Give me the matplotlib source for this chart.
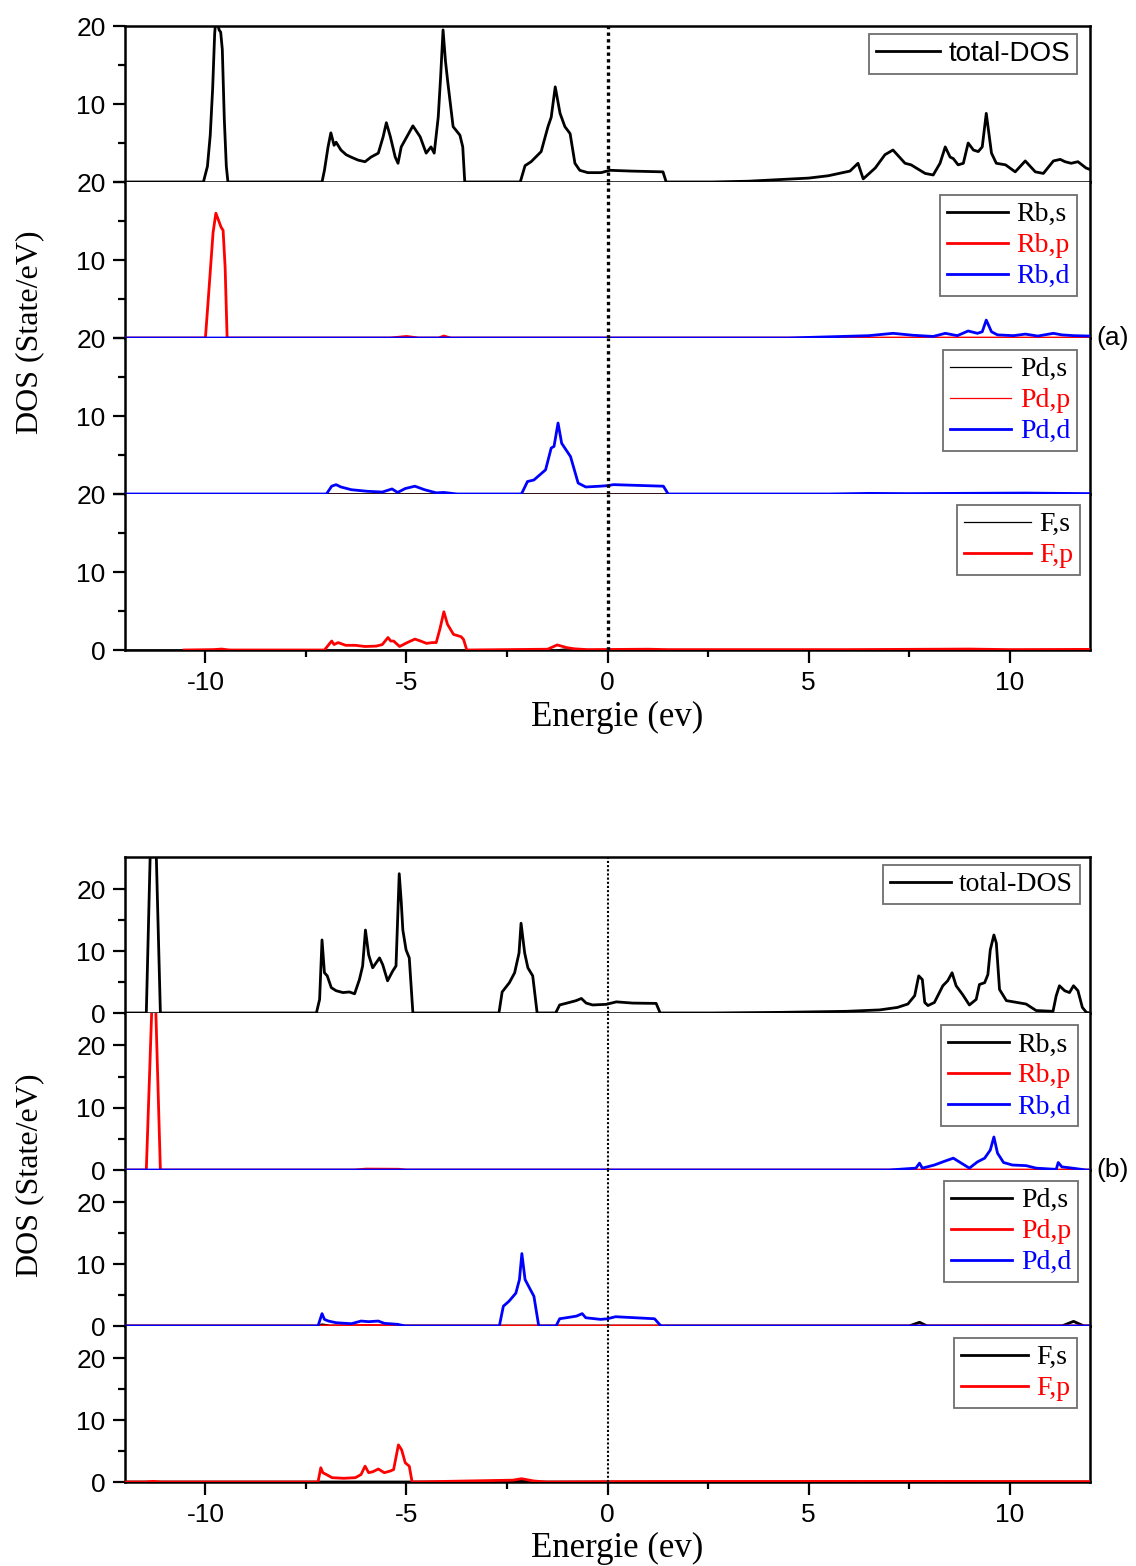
import matplotlib
matplotlib.use("Agg")
import numpy as np
import matplotlib.pyplot as plt
from matplotlib.ticker import FixedLocator, FixedFormatter

SANS = "Liberation Sans"
SERIF = "Liberation Serif"

# ---------------- (a) ----------------
A_TOTAL = np.array([
    (-12, 0), (-10.05, 0), (-9.95, 2), (-9.88, 6), (-9.82, 12), (-9.77, 19), (-9.74, 21),
    (-9.70, 20.5), (-9.66, 19.5), (-9.62, 19.2), (-9.58, 17), (-9.53, 8), (-9.48, 2), (-9.44, 0),
    (-7.1, 0), (-7.04, 1.5), (-6.95, 4.5), (-6.88, 6.3), (-6.8, 4.7), (-6.75, 5.1), (-6.63, 4.1),
    (-6.5, 3.5), (-6.38, 3.2), (-6.2, 2.8), (-6.03, 2.6), (-5.88, 3.2), (-5.7, 3.7), (-5.58, 5.8),
    (-5.5, 7.6), (-5.4, 5.8), (-5.28, 3.2), (-5.21, 2.4), (-5.13, 4.5), (-4.84, 7.2), (-4.66, 5.8),
    (-4.51, 3.7), (-4.39, 4.5), (-4.31, 3.7), (-4.21, 8.3), (-4.15, 13.5), (-4.09, 19.5),
    (-4.03, 15.5), (-3.97, 12.7), (-3.84, 7.1), (-3.67, 6.0), (-3.6, 4.5), (-3.55, 0),
    (-2.17, 0), (-2.05, 2.1), (-1.9, 2.6), (-1.65, 3.9), (-1.48, 7.1), (-1.40, 8.3), (-1.30, 12.2),
    (-1.18, 8.8), (-1.06, 7.1), (-0.93, 6.2), (-0.81, 2.4), (-0.69, 1.5), (-0.49, 1.2), (-0.16, 1.2),
    (0.06, 1.5), (0.59, 1.4), (1.38, 1.3), (1.46, 0),
    (2.6, 0), (3.5, 0.1), (4.24, 0.3), (5.0, 0.5), (5.49, 0.8), (6.03, 1.4), (6.23, 2.4), (6.36, 0.4),
    (6.66, 1.8), (6.9, 3.5), (7.1, 4.1), (7.4, 2.4), (7.55, 2.2), (7.9, 1.1), (8.1, 0.9), (8.27, 2.4),
    (8.4, 4.5), (8.52, 3.2), (8.6, 3.0), (8.72, 2.2), (8.85, 2.4), (8.97, 5.0), (9.1, 4.1), (9.22, 3.9),
    (9.32, 4.5), (9.42, 8.8), (9.55, 3.7), (9.67, 2.4), (9.9, 2.2), (10.14, 1.3), (10.39, 2.7),
    (10.64, 1.3), (10.84, 1.1), (11.09, 2.7), (11.26, 2.9), (11.38, 2.6), (11.53, 2.4), (11.7, 2.6),
    (11.9, 1.8), (12, 1.6)])

A_RB_S = np.array([(-12, 0), (12, 0)])
A_RB_P = np.array([
    (-12, 0), (-10.0, 0), (-9.93, 4.9), (-9.81, 13.5), (-9.74, 16.0), (-9.66, 14.9), (-9.61, 14.2),
    (-9.56, 13.8), (-9.51, 9.1), (-9.46, 0), (-5.4, 0), (-5.0, 0.2), (-4.7, 0), (-4.2, 0),
    (-4.07, 0.25), (-3.9, 0), (12, 0)])
A_RB_D = np.array([
    (-12, 0), (4.5, 0), (5.5, 0.15), (6.5, 0.3), (7.1, 0.6), (7.6, 0.35), (8.1, 0.2), (8.4, 0.6),
    (8.7, 0.3), (8.97, 0.9), (9.2, 0.6), (9.32, 0.8), (9.42, 2.3), (9.55, 0.8), (9.7, 0.4),
    (10.1, 0.3), (10.39, 0.5), (10.7, 0.25), (11.09, 0.6), (11.3, 0.4), (11.6, 0.3), (12, 0.25)])

A_PD_S = np.array([(-12, 0), (10.2, 0), (10.4, 0.15), (10.6, 0), (12, 0)])
A_PD_P = np.array([(-12, 0), (12, 0)])
A_PD_D = np.array([
    (-12, 0), (-6.99, 0), (-6.86, 1.0), (-6.75, 1.2), (-6.63, 0.9), (-6.37, 0.55), (-5.98, 0.35),
    (-5.6, 0.25), (-5.36, 0.65), (-5.22, 0.2), (-5.03, 0.7), (-4.79, 1.0), (-4.55, 0.55),
    (-4.26, 0.15), (-4.07, 0.2), (-3.74, 0), (-2.14, 0), (-1.99, 1.6), (-1.83, 1.8), (-1.54, 3.1),
    (-1.4, 5.9), (-1.33, 6.1), (-1.23, 9.1), (-1.14, 6.5), (-0.92, 4.8), (-0.73, 1.4), (-0.54, 0.9),
    (-0.19, 1.0), (0.0, 1.07), (0.15, 1.2), (1.39, 1.0), (1.51, 0), (5.5, 0), (6.5, 0.08),
    (7.5, 0.05), (9.5, 0.1), (10.4, 0.12), (12, 0.05)])

A_F_S = np.array([(-12, 0), (-1.3, 0), (-1.0, 0.15), (-0.7, 0), (12, 0)])
A_F_P = np.array([
    (-10.53, 0), (-9.8, 0.05), (-9.6, 0.12), (-9.4, 0), (-7.04, 0), (-6.86, 1.15), (-6.8, 0.7),
    (-6.7, 0.95), (-6.51, 0.6), (-6.27, 0.6), (-6.03, 0.45), (-5.75, 0.5), (-5.6, 0.7),
    (-5.46, 1.6), (-5.39, 1.15), (-5.32, 1.15), (-5.17, 0.45), (-4.98, 0.95), (-4.79, 1.4),
    (-4.65, 1.15), (-4.5, 0.85), (-4.36, 0.95), (-4.26, 0.95), (-4.17, 2.65), (-4.07, 4.9),
    (-3.98, 3.3), (-3.83, 2.0), (-3.64, 1.7), (-3.58, 1.35), (-3.5, 0), (-1.49, 0.1),
    (-1.25, 0.65), (-1.01, 0.3), (-0.82, 0.15), (-0.5, 0.05), (1.0, 0.1), (1.5, 0.05),
    (6.0, 0.05), (9.0, 0.12), (10.0, 0.05), (12, 0.08)])

# ---------------- (b) ----------------
B_TOTAL = np.array([
    (-12, 0), (-11.47, 0), (-11.3, 45), (-11.12, 0),
    (-7.24, 0), (-7.16, 2.2), (-7.1, 11.8), (-7.04, 6.5), (-6.97, 6.0), (-6.87, 4.1), (-6.75, 3.6),
    (-6.58, 3.3), (-6.42, 3.4), (-6.29, 3.1), (-6.17, 5.4), (-6.09, 7.6), (-6.02, 13.4), (-5.94, 9.4),
    (-5.84, 7.3), (-5.67, 8.9), (-5.59, 7.8), (-5.47, 5.2), (-5.34, 6.8), (-5.26, 7.6), (-5.22, 15),
    (-5.18, 22.5), (-5.13, 18), (-5.09, 13.4), (-5.01, 10.2), (-4.93, 8.9), (-4.84, 0),
    (-2.7, 0), (-2.62, 3.4), (-2.44, 4.9), (-2.31, 6.5), (-2.2, 9.7), (-2.15, 14.5), (-2.06, 9.7),
    (-1.98, 7.3), (-1.86, 6.0), (-1.75, 0),
    (-1.29, 0), (-1.19, 1.3), (-0.95, 1.7), (-0.78, 2.0), (-0.65, 2.35), (-0.53, 1.6), (-0.37, 1.3),
    (-0.03, 1.4), (0.22, 1.8), (0.63, 1.6), (1.21, 1.55), (1.31, 0),
    (2.6, 0), (4.28, 0.1), (5.94, 0.27), (6.77, 0.5), (7.21, 0.9), (7.47, 1.45), (7.64, 2.8),
    (7.74, 6.0), (7.83, 5.4), (7.89, 1.7), (7.97, 1.2), (8.13, 1.7), (8.34, 4.4), (8.46, 5.2),
    (8.57, 6.5), (8.67, 4.4), (8.83, 3.0), (9.0, 1.3), (9.17, 2.2), (9.25, 4.6), (9.38, 4.9),
    (9.46, 6.2), (9.52, 10.2), (9.61, 12.6), (9.67, 11.3), (9.75, 3.8), (9.92, 2.0), (10.41, 1.45),
    (10.66, 0.4), (11.08, 0.27), (11.16, 2.8), (11.24, 4.4), (11.37, 3.6), (11.49, 3.3),
    (11.59, 4.4), (11.7, 3.6), (11.81, 0.9), (11.91, 0.1), (12, 0)])

B_RB_S = np.array([(-12, 0), (12, 0)])
B_RB_P = np.array([
    (-12, 0), (-11.47, 0), (-11.28, 36), (-11.12, 0), (-6.3, 0), (-6.0, 0.15), (-5.2, 0.12),
    (-5.0, 0), (12, 0)])
B_RB_D = np.array([
    (-12, 0), (7.0, 0), (7.67, 0.3), (7.76, 1.1), (7.83, 0.3), (8.13, 0.8), (8.38, 1.4), (8.6, 1.9),
    (8.8, 1.1), (9.0, 0.3), (9.2, 1.3), (9.38, 1.9), (9.52, 3.2), (9.61, 5.3), (9.7, 2.7),
    (9.85, 1.2), (10.07, 0.8), (10.41, 0.7), (10.66, 0.3), (11.16, 0.1), (11.21, 1.2), (11.3, 0.5),
    (11.56, 0.3), (11.9, 0), (12, 0)])

B_PD_S = np.array([
    (-12, 0), (-7.2, 0), (-7.1, 0.2), (-6.9, 0), (7.5, 0), (7.76, 0.6), (7.95, 0), (11.3, 0),
    (11.59, 0.75), (11.85, 0), (12, 0)])
B_PD_P = np.array([(-12, 0), (-7.1, 0), (-6.0, 0.1), (-5.0, 0), (8.0, 0), (9.5, 0.05), (12, 0)])
B_PD_D = np.array([
    (-12, 0), (-7.2, 0), (-7.1, 2.0), (-7.04, 1.07), (-6.94, 0.8), (-6.75, 0.53), (-6.37, 0.37),
    (-6.13, 0.8), (-5.94, 0.7), (-5.7, 0.8), (-5.55, 0.43), (-5.22, 0.27), (-5.03, 0),
    (-2.69, 0), (-2.59, 3.2), (-2.45, 4.0), (-2.28, 5.3), (-2.19, 7.5), (-2.13, 11.7), (-2.05, 7.5),
    (-1.92, 5.9), (-1.83, 4.8), (-1.71, 0),
    (-1.28, 0), (-1.19, 1.17), (-0.92, 1.44), (-0.77, 1.6), (-0.63, 2.0), (-0.54, 1.33),
    (-0.17, 1.07), (0.0, 1.17), (0.2, 1.5), (1.17, 1.17), (1.33, 0), (12, 0)])

B_F_S = np.array([(-12, 0), (-2.4, 0), (-2.1, 0.2), (-1.8, 0), (12, 0)])
B_F_P = np.array([
    (-12, 0), (-11.5, 0), (-11.3, 0.1), (-11.1, 0), (-7.2, 0), (-7.13, 2.3), (-7.08, 1.5),
    (-6.99, 1.2), (-6.85, 0.7), (-6.56, 0.6), (-6.27, 0.7), (-6.13, 1.2), (-6.03, 2.56),
    (-5.94, 1.5), (-5.84, 1.65), (-5.7, 2.1), (-5.55, 1.5), (-5.41, 1.76), (-5.32, 2.0),
    (-5.2, 6.0), (-5.12, 5.2), (-5.03, 3.1), (-4.93, 2.56), (-4.86, 0), (-2.35, 0.3),
    (-2.14, 0.53), (-1.83, 0.16), (-1.5, 0), (0.0, 0.05), (1.2, 0.08), (7.8, 0.1), (12, 0.05)])

X_MAJOR = [-10, -5, 0, 5, 10]
X_LABELS = ["-10", "-5", "0", "5", "10"]
Y_MAJOR = [0, 10, 20]

BLACK, RED, BLUE = "#000000", "#ff0000", "#0000ff"

fig = plt.figure(figsize=(11.36, 15.66), dpi=100)
W, H = 1136.0, 1566.0
LEFT, RIGHT = 125 / W, 1090 / W


def fx(px):
    return px / W


def fy(py):
    return 1 - py / H


def draw_group(tops, bottom, ylim_top, hide_zero, panels, dot_lw, tag, tag_y, xlabel_y,
               ylabel_y):
    n = len(panels)
    edges = list(tops) + [bottom]
    for i, spec in enumerate(panels):
        y0, y1 = edges[i + 1], edges[i]
        ax = fig.add_axes([LEFT, fy(y0), RIGHT - LEFT, (y0 - y1) / H])
        ax.set_xlim(-12, 12)
        ax.set_ylim(0, ylim_top)
        for data, color, lw, label in spec["curves"]:
            ax.plot(data[:, 0], data[:, 1], color=color, lw=lw, label=label, zorder=3,
                    solid_joinstyle="round")
        ax.axvline(0, color="black", lw=dot_lw, ls=(0, (1, 1)), zorder=4)
        for s in ax.spines.values():
            s.set_linewidth(1.8)
        if i > 0:
            ax.spines["top"].set_visible(False)
        ax.xaxis.set_major_locator(FixedLocator(X_MAJOR))
        ax.xaxis.set_minor_locator(FixedLocator([-7.5, -2.5, 2.5, 7.5]))
        ax.yaxis.set_major_locator(FixedLocator(Y_MAJOR))
        ax.yaxis.set_minor_locator(FixedLocator([5, 15]))
        ax.tick_params(axis="both", which="major", direction="out", length=9, width=1.6,
                       labelsize=19, top=False, right=False)
        ax.tick_params(axis="both", which="minor", direction="out", length=5, width=1.6,
                       top=False, right=False)
        ax.tick_params(axis="y", pad=5)
        ylabels = ["0", "10", "20"]
        if hide_zero and i < n - 1:
            ylabels = ["", "10", "20"]
        ax.yaxis.set_major_formatter(FixedFormatter(ylabels))
        for t in ax.get_yticklabels():
            t.set_fontfamily(SANS)
        if i < n - 1:
            ax.set_xticklabels([])
        else:
            ax.set_xticklabels(X_LABELS)
            for t in ax.get_xticklabels():
                t.set_fontfamily(SANS)
            ax.tick_params(axis="x", pad=6)
        leg = ax.legend(loc="upper right", bbox_to_anchor=spec["anchor"], borderaxespad=0,
                        frameon=True, fancybox=False, framealpha=1, edgecolor="#6e6e6e",
                        prop={"family": spec["font"], "size": spec["fsize"]},
                        handlelength=spec["hlen"], handletextpad=0.3, labelspacing=0.2,
                        borderpad=0.25, labelcolor="linecolor")
        leg.get_frame().set_linewidth(1.3)
    fig.text(fx(30), fy(ylabel_y), "DOS (State/eV)", rotation=90,
             ha="center", va="center", family=SERIF, fontsize=23)
    fig.text(fx(1113), fy(tag_y), tag, ha="center", va="center", family=SANS, fontsize=19)
    fig.text(fx(617), fy(xlabel_y), "Energie (ev)", ha="center", va="center",
             family=SERIF, fontsize=25)


panels_a = [
    {"curves": [(A_TOTAL, BLACK, 2.0, "total-DOS")], "anchor": (1 - 13 / 965, 1 - 8 / 156),
     "font": SANS, "fsize": 20, "hlen": 2.3},
    {"curves": [(A_RB_S, BLACK, 2.0, "Rb,s"), (A_RB_P, RED, 2.0, "Rb,p"),
                (A_RB_D, BLUE, 2.0, "Rb,d")], "anchor": (1 - 13 / 965, 1 - 13 / 156),
     "font": SERIF, "fsize": 20, "hlen": 2.2},
    {"curves": [(A_PD_S, BLACK, 0.9, "Pd,s"), (A_PD_P, RED, 0.9, "Pd,p"),
                (A_PD_D, BLUE, 2.0, "Pd,d")], "anchor": (1 - 13 / 965, 1 - 12 / 156),
     "font": SERIF, "fsize": 20, "hlen": 2.2},
    {"curves": [(A_F_S, BLACK, 0.9, "F,s"), (A_F_P, RED, 2.0, "F,p")],
     "anchor": (1 - 10 / 965, 1 - 11 / 156), "font": SERIF, "fsize": 20, "hlen": 2.4},
]

panels_b = [
    {"curves": [(B_TOTAL, BLACK, 2.0, "total-DOS")], "anchor": (1 - 10 / 965, 1 - 8 / 156),
     "font": SERIF, "fsize": 20, "hlen": 2.2},
    {"curves": [(B_RB_S, BLACK, 2.0, "Rb,s"), (B_RB_P, RED, 2.0, "Rb,p"),
                (B_RB_D, BLUE, 2.0, "Rb,d")], "anchor": (1 - 12 / 965, 1 - 12 / 156),
     "font": SERIF, "fsize": 20, "hlen": 2.2},
    {"curves": [(B_PD_S, BLACK, 2.0, "Pd,s"), (B_PD_P, RED, 2.0, "Pd,p"),
                (B_PD_D, BLUE, 2.0, "Pd,d")], "anchor": (1 - 12 / 965, 1 - 11 / 156),
     "font": SERIF, "fsize": 20, "hlen": 2.2},
    {"curves": [(B_F_S, BLACK, 2.0, "F,s"), (B_F_P, RED, 2.0, "F,p")],
     "anchor": (1 - 13 / 965, 1 - 12 / 156), "font": SERIF, "fsize": 20, "hlen": 2.4},
]

draw_group([26, 182, 338, 494], 650, 20, True, panels_a, 2.4, "(a)", 338, 717, 332)
draw_group([857, 1013, 1170, 1326], 1482, 25.2, False, panels_b, 1.5, "(b)", 1170, 1548, 1175)

fig.savefig("out.png", dpi=100)
